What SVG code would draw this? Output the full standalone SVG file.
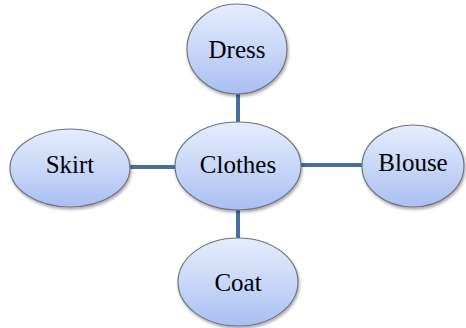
<svg xmlns="http://www.w3.org/2000/svg" width="466" height="328" viewBox="0 0 466 328">
<defs>
<linearGradient id="g" x1="0" y1="0" x2="0" y2="1">
<stop offset="0" stop-color="#e6ecfb"/>
<stop offset="0.5" stop-color="#c9d7f8"/>
<stop offset="1" stop-color="#a8bff2"/>
</linearGradient>
<filter id="sh" x="-20%" y="-20%" width="140%" height="140%">
<feGaussianBlur in="SourceAlpha" stdDeviation="1.5"/>
<feOffset dx="1" dy="2" result="b"/>
<feComponentTransfer><feFuncA type="linear" slope="0.35"/></feComponentTransfer>
<feMerge><feMergeNode/><feMergeNode in="SourceGraphic"/></feMerge>
</filter>
</defs>
<style>
.n ellipse{fill:url(#g);stroke:#6f7480;stroke-width:1.2;filter:url(#sh)}
.n text{font-family:"Liberation Serif","Times New Roman",serif;font-size:25px;fill:#000;text-anchor:middle;dominant-baseline:central}
.c line{stroke:#466f9d;stroke-width:4}
</style>
<rect width="466" height="328" fill="#fff"/>
<g id="connectors" class="c">
<line x1="238" y1="90" x2="238" y2="124"/>
<line x1="238" y1="208" x2="238" y2="240"/>
<line x1="128" y1="167" x2="177" y2="167"/>
<line x1="300" y1="165" x2="364" y2="165"/>
</g>
<g id="dress" class="n"><ellipse cx="237" cy="49" rx="50" ry="45"/><text x="237" y="49">Dress</text></g>
<g id="clothes" class="n"><ellipse cx="238" cy="166" rx="63" ry="44"/><text x="238" y="164">Clothes</text></g>
<g id="skirt" class="n"><ellipse cx="70" cy="168" rx="60" ry="39"/><text x="70" y="164">Skirt</text></g>
<g id="blouse" class="n"><ellipse cx="413" cy="166" rx="51" ry="41"/><text x="413" y="162">Blouse</text></g>
<g id="coat" class="n"><ellipse cx="238" cy="282" rx="60" ry="44"/><text x="238" y="282">Coat</text></g>
</svg>
